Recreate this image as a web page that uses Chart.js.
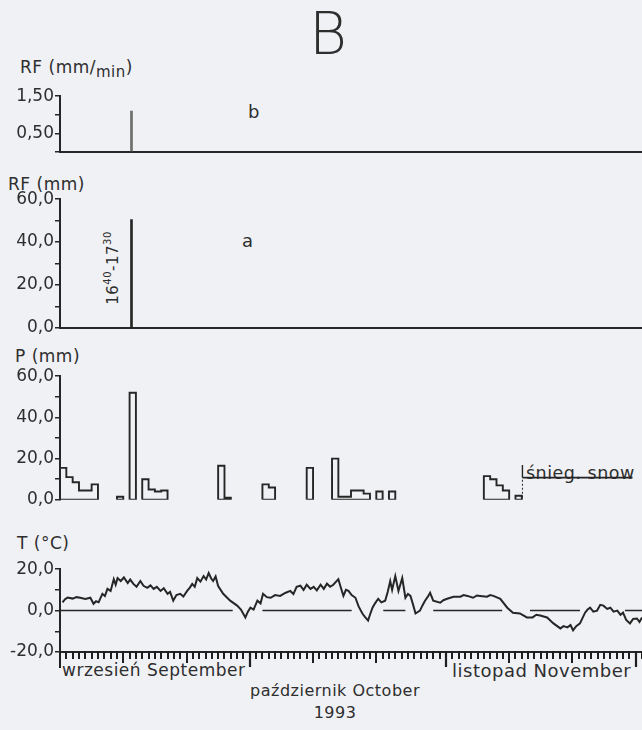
<!DOCTYPE html>
<html>
<head>
<meta charset="utf-8">
<script src="https://cdn.jsdelivr.net/npm/chart.js@4.4.1/dist/chart.umd.min.js"></script>
<style>
  body { margin: 0; background: #f0f1f5; }
  #wrap { position: relative; width: 642px; height: 730px; overflow: hidden; font-family: "DejaVu Sans", sans-serif; color: #2e2e2e; }
  canvas { position: absolute; left: 0; }
  .t { position: absolute; white-space: nowrap; font-size: 17px; letter-spacing: 0.5px; }
  sub { font-size: 15px; vertical-align: -4px; }
  sup { font-size: 10px; vertical-align: 7px; }
</style>
</head>
<body>
<div id="wrap">
  <div class="t" style="left:309px;top:0px;font-size:58px;font-family:'DejaVu Sans ExtraLight','DejaVu Sans';font-weight:200;">B</div>
  <div class="t" style="left:20px;top:57px;">RF (mm/<sub>min</sub>)</div>
  <div class="t" style="left:248px;top:101px;font-size:18px;">b</div>
  <div class="t" style="left:8px;top:174px;">RF (mm)</div>
  <div class="t" style="left:242px;top:230px;font-size:18px;">a</div>
  <div class="t" style="left:72px;top:258px;font-size:15px;width:80px;text-align:center;transform:rotate(-90deg);">16<sup>40</sup>-17<sup>30</sup></div>
  <div class="t" style="left:15px;top:346px;">P (mm)</div>
  <div class="t" style="left:526px;top:463px;font-size:17.5px;">śnieg. snow</div>
  <div class="t" style="left:17px;top:533px;">T (°C)</div>
  <div class="t" style="left:62px;top:660px;font-size:17px;">wrzesień September</div>
  <div class="t" style="left:235px;top:681px;width:200px;text-align:center;font-size:16px;">październik October</div>
  <div class="t" style="left:452px;top:660px;font-size:18px;">listopad November</div>
  <div class="t" style="left:285px;top:703px;width:100px;text-align:center;font-size:16px;">1993</div>

  <canvas id="cB" width="642" height="78" style="top:85px"></canvas>
  <canvas id="cA" width="642" height="151" style="top:188px"></canvas>
  <canvas id="cP" width="642" height="146" style="top:365px"></canvas>
  <canvas id="cT" width="642" height="114" style="top:558px"></canvas>
</div>
<script>
// days counted from 1 Sept 1993 (0) to the end of November
const xMin = 0, xMax = 92;

// b: rainfall intensity, a: rainfall amount of the event
const rfDay = [11.3];
const rfIntensity = [1.1];
const rfAmount = [50.5];

// P: daily precipitation (day index, mm)
const pDays = [0, 1, 2, 3, 4, 5, 9, 11, 13, 14, 15, 16, 25, 26, 32, 33, 39, 43, 44, 45, 46, 47, 48, 50, 52, 67, 68, 69, 70, 72];
const pVals = [15.5, 11, 8.5, 4.5, 4.5, 7.5, 1.5, 52, 10, 5, 4, 4.5, 16.5, 1, 7.5, 6, 15.5, 20, 1.5, 1.5, 4.5, 4.5, 3, 4, 4, 11.5, 10, 7, 4.5, 2];
// snow cover period
const snowStart = 73.1, snowEnd = 90.5, snowLevel = 10.8, snowTop = 16.9;

// T: air temperature [day, °C]
const tSeries = [
  [0.4, 4.0], [0.8, 5.5], [1.2, 6.3], [2.0, 5.8], [2.6, 6.5], [3.2, 6.2], [4.0, 5.6], [4.8, 6.2], [5.3, 3.3], [5.7, 4.5],
  [6.1, 4.0], [6.7, 8.1], [7.1, 7.0], [7.5, 10.5], [8.0, 9.5], [8.5, 15.2], [8.8, 12.5], [9.1, 15.7], [9.6, 14.3], [10.1, 16.0],
  [10.7, 13.3], [11.1, 15.0], [11.6, 12.9], [12.1, 11.5], [12.7, 14.3], [13.2, 12.0], [13.8, 11.0], [14.3, 12.2], [14.8, 10.5], [15.3, 11.5],
  [15.9, 9.5], [16.4, 10.8], [17.0, 8.1], [17.4, 9.0], [17.9, 4.8], [18.4, 7.5], [19.0, 8.1], [19.5, 6.8], [20.1, 9.5], [20.5, 11.0],
  [20.9, 12.9], [21.3, 11.5], [21.7, 15.7], [22.2, 14.0], [22.7, 16.7], [23.1, 15.0], [23.5, 18.1], [23.9, 15.5], [24.2, 14.3], [24.6, 16.5],
  [25.0, 11.9], [25.8, 8.1], [26.9, 4.8], [28.0, 2.4], [28.6, 0.5], [29.3, -3.3], [29.7, -0.5], [30.1, 1.4], [30.6, 0.5], [31.2, 4.8],
  [31.7, 3.5], [32.1, 8.1], [32.7, 6.5], [33.3, 6.2], [34.0, 7.5], [34.8, 7.1], [35.6, 8.5], [36.4, 9.5], [36.9, 8.0], [37.4, 11.5],
  [38.0, 12.0], [38.5, 10.0], [39.0, 12.5], [39.6, 10.5], [40.1, 11.5], [40.6, 9.8], [41.2, 12.5], [41.7, 10.5], [42.2, 13.0], [42.7, 11.5],
  [43.2, 12.5], [44.0, 15.2], [44.4, 11.0], [44.8, 7.1], [45.2, 10.0], [45.6, 9.5], [46.1, 7.5], [46.7, 6.2], [47.2, 2.0], [47.8, -1.4],
  [48.2, -3.0], [48.7, -4.8], [49.0, -2.0], [49.4, 1.4], [49.8, 3.5], [50.3, 5.7], [50.8, 4.0], [51.4, 4.8], [51.8, 9.0], [52.2, 14.3],
  [52.5, 10.0], [53.0, 16.7], [53.5, 9.5], [54.1, 15.7], [54.6, 6.2], [55.0, 8.0], [55.4, 7.1], [55.8, 3.0], [56.2, -1.4], [56.9, 0],
  [57.3, 2.5], [57.7, 4.8], [58.1, 6.5], [58.5, 8.6], [59.0, 4.8], [60.1, 3.8], [60.6, 5.0], [61.2, 5.7], [62.2, 6.7], [63.3, 6.7],
  [63.8, 7.5], [64.4, 7.1], [65.3, 6.2], [65.9, 7.3], [66.4, 7.1], [67.5, 6.7], [68.0, 7.5], [68.5, 7.1], [69.6, 5.7], [70.7, 1.4],
  [71.6, -1.0], [72.7, -1.4], [73.8, -3.3], [74.7, -3.3], [75.3, -2.0], [75.9, -2.4], [77.0, -3.3], [78.0, -6.2], [79.1, -8.6], [79.6, -7.5],
  [80.2, -8.1], [80.7, -7.0], [81.1, -9.5], [81.6, -7.5], [82.2, -6.2], [83.0, -1.0], [83.4, 0.5], [83.8, 1.4], [84.3, -0.5], [84.9, 0],
  [85.4, 2.8], [85.9, 2.4], [86.5, 0.8], [87.0, 1.4], [87.5, -0.5], [88.1, 0], [88.6, -2.0], [89.0, -1.0], [89.5, -4.5], [90.1, -6.2],
  [90.6, -4.0], [91.2, -3.8], [91.6, -5.5], [92.0, -3.3]
];
// pieces of the 0 °C reference line
const zeroSegs = [[0, 27.3], [32.0, 46.1], [51.1, 54.6], [59.0, 69.9], [74.3, 82.2], [89.3, 92]];

// x axis ticks
const tenDayTicks = [10, 20, 40, 50, 71, 81];
const monthTicks = [0, 30, 61, 91];

const ink = '#262626';
const font = { family: 'DejaVu Sans', size: 17 };

function comma(v, d) { return v.toFixed(d).replace('.', ','); }
function near(a, b) { return Math.abs(a - b) < 1e-6; }

function yAxis(min, max, step, labelFn) {
  return {
    min: min, max: max,
    afterFit: s => { s.width = 60; },
    border: { display: true, color: ink, width: 2 },
    grid: { drawOnChartArea: false, drawTicks: true, tickLength: 5, color: ink, lineWidth: 1.5 },
    ticks: { stepSize: step, autoSkip: false, color: '#2e2e2e', font: font, padding: 1, callback: labelFn }
  };
}

function xAxis(showLine) {
  return {
    type: 'linear', min: xMin, max: xMax, offset: false,
    display: showLine,
    afterFit: s => { s.height = 0; },
    border: { display: true, color: ink, width: 2 },
    grid: { display: false },
    ticks: { display: false }
  };
}

function baseOptions(pad, scales) {
  return {
    responsive: false, animation: false, devicePixelRatio: 1,
    layout: { padding: pad },
    plugins: { legend: { display: false }, tooltip: { enabled: false } },
    scales: scales
  };
}

// b
new Chart(document.getElementById('cB'), {
  type: 'bar',
  data: { datasets: [{ data: rfDay.map((d, i) => ({ x: d, y: rfIntensity[i] })), backgroundColor: '#6d6d6d', barThickness: 2 }] },
  options: baseOptions({ top: 10, bottom: 6, left: 0, right: 0 }, {
    x: xAxis(true),
    y: yAxis(0, 1.5, 0.5, v => (near(v, 0.5) || near(v, 1.5)) ? comma(v, 2) : '')
  })
});

// a
new Chart(document.getElementById('cA'), {
  type: 'bar',
  data: { datasets: [{ data: rfDay.map((d, i) => ({ x: d, y: rfAmount[i] })), backgroundColor: ink, barThickness: 2 }] },
  options: baseOptions({ top: 10, bottom: 6, left: 0, right: 0 }, {
    x: xAxis(true),
    y: yAxis(0, 60, 10, v => v % 20 === 0 ? comma(v, 1) : '')
  })
});

// P: outlined step shapes for each run of consecutive rain days
function stepOutline() {
  const pts = [];
  let i = 0;
  while (i < pDays.length) {
    let j = i;
    while (j + 1 < pDays.length && pDays[j + 1] === pDays[j] + 1) j++;
    const a = pDays[i];
    pts.push({ x: a, y: 0 });
    for (let k = i; k <= j; k++) {
      pts.push({ x: pDays[k], y: pVals[k] });
      pts.push({ x: pDays[k] + 1, y: pVals[k] });
    }
    pts.push({ x: pDays[j] + 1, y: 0 });
    pts.push({ x: a, y: 0 });
    pts.push({ x: pDays[j] + 1, y: null });
    i = j + 1;
  }
  return pts;
}

new Chart(document.getElementById('cP'), {
  type: 'line',
  data: {
    datasets: [
      { data: stepOutline(), borderColor: ink, borderWidth: 1.9, pointRadius: 0, tension: 0, spanGaps: false },
      { data: [{ x: snowStart, y: snowLevel }, { x: snowEnd, y: snowLevel }], borderColor: ink, borderWidth: 1.8, pointRadius: 0 },
      { data: [{ x: snowStart, y: snowLevel }, { x: snowStart, y: snowTop }], borderColor: ink, borderWidth: 1.4, pointRadius: 0 },
      { data: [{ x: snowStart, y: 1 }, { x: snowStart, y: snowLevel }], borderColor: ink, borderWidth: 1, borderDash: [2, 2], pointRadius: 0 }
    ]
  },
  options: baseOptions({ top: 10, bottom: 8, left: 0, right: 0 }, {
    x: xAxis(false),
    y: yAxis(0, 60, 10, v => v % 20 === 0 ? comma(v, 1) : '')
  })
});

// T
const zeroPts = [];
zeroSegs.forEach(s => {
  zeroPts.push({ x: s[0], y: 0 }, { x: s[1], y: 0 }, { x: s[1], y: null });
});

const dayTicks = {
  id: 'dayTicks',
  afterDraw(chart) {
    const c = chart.ctx, sx = chart.scales.x, y0 = chart.chartArea.bottom;
    c.save();
    c.strokeStyle = '#1e1e1e';
    for (let d = 1; d <= xMax; d++) {
      let len = 7, w = 2;
      if (tenDayTicks.includes(d)) { len = 11; w = 2; }
      if (monthTicks.includes(d)) { len = 15; w = 2.2; }
      const x = Math.round(sx.getPixelForValue(d));
      c.lineWidth = w;
      c.beginPath(); c.moveTo(x, y0 - 1); c.lineTo(x, y0 + len); c.stroke();
    }
    // y axis runs on below the time axis
    c.lineWidth = 2;
    c.beginPath(); c.moveTo(chart.chartArea.left, y0); c.lineTo(chart.chartArea.left, y0 + 16); c.stroke();
    c.restore();
  }
};

new Chart(document.getElementById('cT'), {
  type: 'line',
  data: {
    datasets: [
      { data: tSeries.map(p => ({ x: p[0], y: p[1] })), borderColor: ink, borderWidth: 2, pointRadius: 0, tension: 0 },
      { data: zeroPts, borderColor: ink, borderWidth: 1.5, pointRadius: 0, spanGaps: false }
    ]
  },
  options: baseOptions({ top: 10, bottom: 20, left: 0, right: 0 }, {
    x: xAxis(true),
    y: yAxis(-20, 20, 10, v => v % 20 === 0 ? comma(v, 1) : '')
  }),
  plugins: [dayTicks]
});
</script>
</body>
</html>
